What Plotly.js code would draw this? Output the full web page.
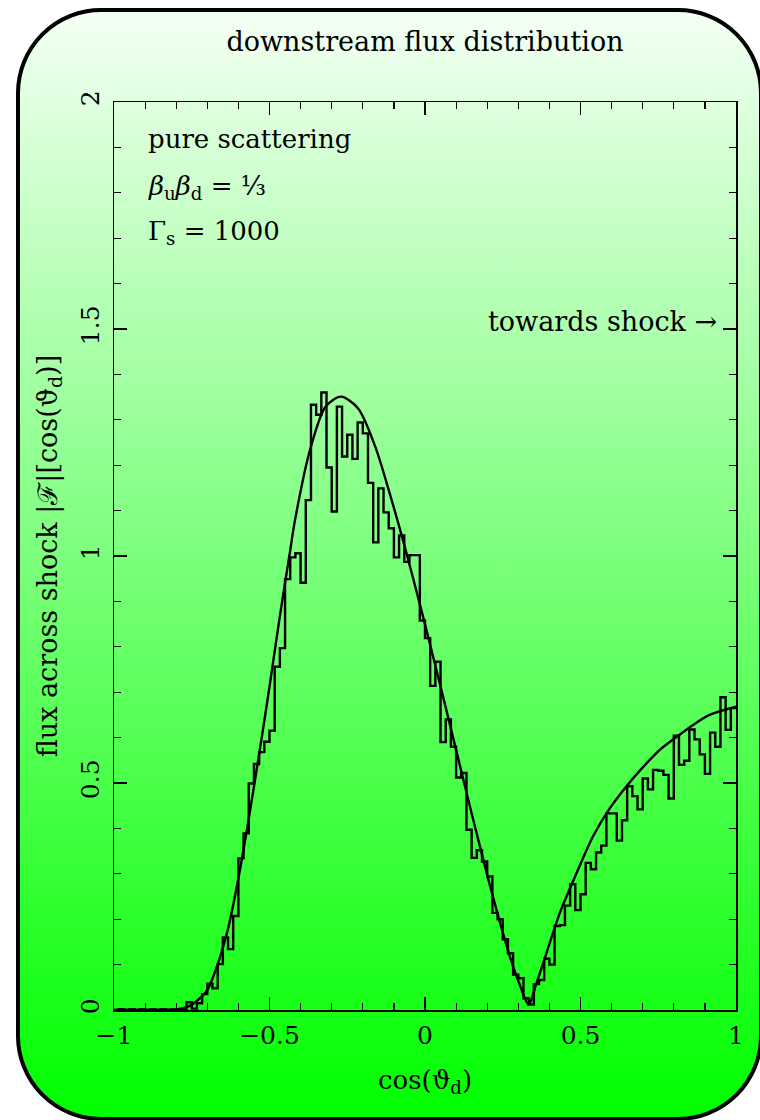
<!DOCTYPE html>
<html>
<head>
<meta charset="utf-8">
<script src="https://cdn.plot.ly/plotly-3.0.1.min.js"></script>
<style>
  html, body { margin: 0; padding: 0; width: 760px; height: 1120px; overflow: hidden; background: #ffffff; }
  #bg {
    position: absolute; left: 16px; top: 8px; width: 747px; height: 1113px;
    box-sizing: border-box; border: 4px solid #000; border-radius: 85px;
    background: linear-gradient(to bottom, #f4fff4 0%, #00ff00 100%);
  }
  #chart { position: absolute; left: 0; top: 0; width: 760px; height: 1120px; }
</style>
</head>
<body>
<div id="bg"></div>
<div id="chart"></div>
<script>
// ---- data ----
const histRangeMin = -1;
const histRangeMax = 1;
// flux per bin (120 equal bins of cos(theta_d) from -1 to 1)
const histValues = [
  0.000, 0.002, 0.000, 0.002, 0.000, 0.002, 0.000, 0.002, 0.000, 0.002,
  0.000, 0.001, 0.000, 0.002, 0.017, 0.003, 0.015, 0.035, 0.058, 0.048,
  0.101, 0.160, 0.134, 0.207, 0.334, 0.389, 0.499, 0.542, 0.568, 0.591,
  0.615, 0.756, 0.797, 0.949, 0.997, 1.006, 0.941, 1.123, 1.333, 1.311,
  1.360, 1.195, 1.098, 1.329, 1.219, 1.267, 1.214, 1.294, 1.270, 1.161,
  1.030, 1.149, 1.096, 1.061, 0.997, 1.045, 0.987, 1.002, 1.002, 0.858,
  0.819, 0.714, 0.767, 0.590, 0.640, 0.580, 0.512, 0.522, 0.397, 0.335,
  0.352, 0.327, 0.294, 0.214, 0.200, 0.156, 0.125, 0.078, 0.070, 0.026,
  0.012, 0.057, 0.066, 0.113, 0.100, 0.185, 0.187, 0.230, 0.277, 0.220,
  0.255, 0.324, 0.310, 0.347, 0.362, 0.433, 0.433, 0.373, 0.418, 0.493,
  0.471, 0.442, 0.510, 0.486, 0.529, 0.527, 0.518, 0.466, 0.604, 0.540,
  0.549, 0.618, 0.596, 0.563, 0.520, 0.611, 0.580, 0.689, 0.617, 0.665
];
// analytic curve
const curveX = [-1, -0.9, -0.8, -0.76, -0.73, -0.7, -0.667, -0.633, -0.6, -0.567,
  -0.533, -0.5, -0.467, -0.434, -0.418, -0.37, -0.32, -0.27, -0.215, -0.16,
  -0.108, -0.065, -0.017, 0.031, 0.085, 0.133, 0.165, 0.219, 0.272, 0.305,
  0.333, 0.358, 0.38, 0.433, 0.487, 0.54, 0.594, 0.648, 0.701, 0.755,
  0.808, 0.862, 0.915, 1.0];
const curveY = [0, 0, 0.001, 0.008, 0.022, 0.044, 0.100, 0.180, 0.290, 0.420,
  0.565, 0.712, 0.866, 1.010, 1.079, 1.233, 1.329, 1.351, 1.325, 1.241,
  1.125, 1.020, 0.895, 0.765, 0.615, 0.480, 0.392, 0.248, 0.120, 0.055,
  0.012, 0.058, 0.103, 0.213, 0.301, 0.382, 0.444, 0.493, 0.535, 0.573,
  0.601, 0.628, 0.650, 0.668];
const xTickVals = [-1, -0.5, 0, 0.5, 1];
const yTickVals = [0, 0.5, 1, 1.5, 2];

// ---- build step trace from bins ----
const nBins = histValues.length;
const binW = (histRangeMax - histRangeMin) / nBins;
const edges = [];
for (let i = 0; i <= nBins; i++) edges.push(histRangeMin + i * binW);
const stepY = histValues.concat([histValues[nBins - 1]]);

const FONT = 'DejaVu Serif, serif';

const traces = [
  { x: edges, y: stepY, type: 'scatter', mode: 'lines',
    line: { shape: 'hv', color: '#000', width: 2.4 }, hoverinfo: 'skip' },
  { x: curveX, y: curveY, type: 'scatter', mode: 'lines',
    line: { shape: 'spline', smoothing: 0.8, color: '#000', width: 2.4 }, hoverinfo: 'skip' }
];

const axisCommon = {
  showgrid: false, zeroline: false, showline: true, linecolor: '#000', linewidth: 1.5,
  mirror: 'allticks', ticks: 'inside', ticklen: 13, tickwidth: 1.3, tickcolor: '#000',
  tickfont: { family: FONT, size: 25, color: '#000' },
  minor: { dtick: 0.1, ticks: 'inside', ticklen: 7, tickwidth: 1.2, tickcolor: '#000', showgrid: false }
};

const annFont = { family: FONT, size: 26, color: '#000' };

const layout = {
  width: 760, height: 1120,
  margin: { l: 114, r: 23.5, t: 102, b: 110 },
  paper_bgcolor: 'rgba(0,0,0,0)', plot_bgcolor: 'rgba(0,0,0,0)',
  showlegend: false,
  font: { family: FONT, color: '#000' },
  title: { text: 'downstream flux distribution', font: { family: FONT, size: 27, color: '#000' },
           x: 0.5, xref: 'paper', xanchor: 'center', y: 1 - 42 / 1120, yref: 'container', yanchor: 'middle' },
  xaxis: Object.assign({}, axisCommon, {
    range: [-1, 1], tickmode: 'array', tickvals: xTickVals, ticklabelstandoff: 2,
    title: { text: 'cos(ϑ<sub>d</sub>)', font: { family: FONT, size: 26, color: '#000' }, standoff: 22 }
  }),
  yaxis: Object.assign({}, axisCommon, {
    range: [0, 2], tickmode: 'array', tickvals: yTickVals, tickangle: -90, ticklabelstandoff: 4,
    title: { text: 'flux across shock |ℱ|[cos(ϑ<sub>d</sub>)]', font: { family: FONT, size: 27, color: '#000' }, standoff: 10 }
  }),
  annotations: [
    { text: 'pure scattering', xref: 'paper', yref: 'paper', x: (146 - 114) / 622.5, y: (1010 - 139) / 908,
      xanchor: 'left', yanchor: 'middle', showarrow: false, font: annFont },
    { text: '<i>β</i><sub>u</sub><i>β</i><sub>d</sub> = ⅓', xref: 'paper', yref: 'paper', x: (146 - 114) / 622.5, y: (1010 - 187) / 908,
      xanchor: 'left', yanchor: 'middle', showarrow: false, font: annFont },
    { text: 'Γ<sub>s</sub> = 1000', xref: 'paper', yref: 'paper', x: (146 - 114) / 622.5, y: (1010 - 232) / 908,
      xanchor: 'left', yanchor: 'middle', showarrow: false, font: annFont },
    { text: 'towards shock →', xref: 'paper', yref: 'paper', x: (719 - 114) / 622.5, y: (1010 - 321) / 908,
      xanchor: 'right', yanchor: 'middle', showarrow: false, font: { family: FONT, size: 27, color: '#000' } }
  ]
};

Plotly.newPlot('chart', traces, layout, { staticPlot: true, displayModeBar: false });
</script>
</body>
</html>
